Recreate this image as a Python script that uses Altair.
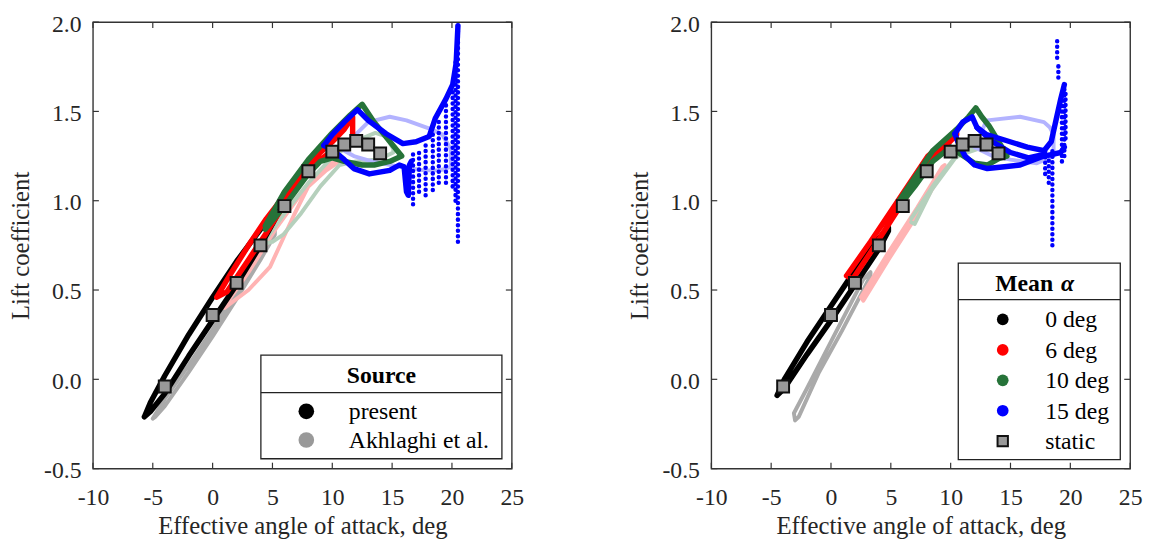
import altair as alt
import pandas as pd

FONT = "Liberation Serif"
PW, PH = 424, 452
SPACING = 103

x_ticks = [-10, -5, 0, 5, 10, 15, 20, 25]
y_ticks = [-0.5, 0.0, 0.5, 1.0, 1.5, 2.0]

# static lift curve (both panels)
static_aoa = [-4, 0, 2, 4, 6, 8, 10, 11, 12, 13, 14]
static_cl = [-0.04, 0.36, 0.54, 0.75, 0.97, 1.165, 1.275, 1.315, 1.335, 1.315, 1.265]

# ---------------- left panel: present ----------------
L_p0_x = [-5.7, -5.2, -4.0, -2.0, 0.0, 2.0, 4.0, 5.0, 5.7, 5.7, 5.0, 4.0, 2.0, 0.0, -2.0, -4.0, -5.2, -5.7]
L_p0_y = [-0.21, -0.13, 0.02, 0.25, 0.46, 0.66, 0.84, 0.92, 0.97, 0.96, 0.87, 0.75, 0.53, 0.33, 0.13, -0.08, -0.18, -0.21]

L_p6_x = [0.35, 1.5, 3.0, 4.5, 6.0, 7.5, 9.0, 10.0, 11.0, 11.7, 11.7, 11.0, 10.0, 9.0, 8.0, 6.0, 4.5, 3.0, 1.2, 0.35]
L_p6_y = [0.46, 0.59, 0.75, 0.90, 1.03, 1.16, 1.27, 1.33, 1.40, 1.47, 1.32, 1.30, 1.28, 1.23, 1.16, 0.98, 0.82, 0.67, 0.49, 0.46]

L_p10_x = [4.4, 6.0, 8.0, 10.0, 11.5, 12.5, 13.5, 14.7, 15.8, 14.8, 13.5, 12.5, 11.0, 10.0, 9.0, 8.0, 6.0, 4.4]
L_p10_y = [0.86, 1.05, 1.23, 1.38, 1.48, 1.54, 1.44, 1.34, 1.25, 1.22, 1.20, 1.20, 1.22, 1.24, 1.22, 1.15, 0.97, 0.84]

L_p15_up_x = [9.3, 10.0, 11.0, 12.1, 13.0, 14.5, 15.9, 17.0, 18.1, 18.6, 19.5, 20.06, 20.35, 20.5]
L_p15_up_y = [1.31, 1.37, 1.44, 1.51, 1.45, 1.375, 1.32, 1.33, 1.36, 1.46, 1.57, 1.65, 1.77, 1.98]
L_p15_dn_x = [16.6, 16.45, 16.35, 16.2, 16.0, 15.6, 14.8, 13.1, 11.8, 11.0, 10.1, 9.3]
L_p15_dn_y = [1.22, 1.20, 1.03, 1.05, 1.19, 1.20, 1.17, 1.15, 1.18, 1.23, 1.28, 1.31]

# post-stall scatter columns (angle, lowest CL, highest CL)
L_st_x = [20.5, 20.3, 20.06, 19.5, 18.9, 18.4, 17.8, 17.25, 16.75]
L_st_lo = [0.77, 1.00, 1.08, 1.10, 1.10, 1.06, 1.03, 1.05, 0.98]
L_st_hi = [1.98, 1.80, 1.61, 1.55, 1.45, 1.38, 1.32, 1.28, 1.28]

# ---------------- left panel: Akhlaghi et al. ----------------
L_a0_x = [-5.0, -4.0, -2.0, 0.0, 2.0, 4.0, 5.2, 5.2, 4.0, 2.0, 0.0, -2.0, -4.0, -4.8, -5.0]
L_a0_y = [-0.22, -0.11, 0.08, 0.28, 0.49, 0.70, 0.83, 0.81, 0.67, 0.45, 0.24, 0.04, -0.15, -0.21, -0.22]

L_a6_x = [1.0, 3.0, 5.35, 7.4, 9.5, 10.6, 10.6, 9.5, 8.0, 6.8, 5.9, 4.8, 3.0, 2.0, 1.0]
L_a6_y = [0.41, 0.60, 0.85, 1.04, 1.19, 1.25, 1.22, 1.17, 1.08, 0.92, 0.79, 0.63, 0.50, 0.45, 0.40]

L_a10_x = [4.3, 5.9, 8.0, 9.8, 11.8, 13.6, 14.5, 15.1, 15.1, 14.5, 13.6, 12.0, 10.6, 9.0, 7.4, 5.9, 5.0, 4.3]
L_a10_y = [0.77, 0.92, 1.10, 1.23, 1.33, 1.38, 1.36, 1.29, 1.27, 1.25, 1.23, 1.22, 1.20, 1.08, 0.93, 0.81, 0.77, 0.76]

L_a15_x = [11.0, 11.8, 13.0, 14.8, 16.2, 18.3, 19.2, 19.9, 19.9, 19.0, 17.7, 15.6, 13.3, 11.8, 11.0]
L_a15_y = [1.28, 1.36, 1.44, 1.47, 1.45, 1.40, 1.37, 1.29, 1.19, 1.17, 1.17, 1.19, 1.22, 1.25, 1.28]

# ---------------- right panel: present ----------------
R_p0_x = [-4.5, -3.9, -2.0, 0.0, 2.0, 4.0, 4.8, 4.8, 4.0, 2.0, 0.0, -2.0, -3.9, -4.5]
R_p0_y = [-0.09, 0.0, 0.21, 0.41, 0.61, 0.79, 0.85, 0.83, 0.73, 0.53, 0.33, 0.14, -0.05, -0.09]

R_p6_x = [1.3, 3.3, 5.4, 8.1, 9.5, 10.5, 10.5, 9.5, 8.1, 5.7, 3.3, 1.8, 1.3]
R_p6_y = [0.58, 0.77, 0.98, 1.25, 1.33, 1.38, 1.37, 1.30, 1.21, 0.96, 0.71, 0.56, 0.58]

R_p10_x = [5.7, 7.0, 8.5, 10.5, 11.5, 12.1, 12.6, 13.2, 14.2, 14.7, 14.05, 13.06, 12.0, 10.84, 10.0, 8.5, 7.0, 5.7]
R_p10_y = [1.0, 1.13, 1.28, 1.40, 1.47, 1.52, 1.47, 1.42, 1.31, 1.25, 1.237, 1.20, 1.21, 1.26, 1.30, 1.22, 1.08, 0.97]

R_p15_up_x = [10.35, 11.0, 11.8, 12.2, 13.0, 14.5, 16.4, 17.8, 18.4, 18.8, 19.2, 19.5]
R_p15_up_y = [1.375, 1.44, 1.47, 1.41, 1.37, 1.34, 1.30, 1.28, 1.33, 1.45, 1.57, 1.65]
R_p15_mid_x = [12.2, 13.5, 15.0, 16.5, 17.8]
R_p15_mid_y = [1.41, 1.33, 1.27, 1.24, 1.26]
R_p15_dn_x = [19.5, 19.2, 18.5, 17.8, 15.8, 14.5, 13.06, 12.0, 11.2, 10.6, 10.35]
R_p15_dn_y = [1.30, 1.27, 1.26, 1.25, 1.20, 1.19, 1.18, 1.20, 1.25, 1.33, 1.375]

R_st_x = [18.5, 18.2, 17.9, 18.9, 19.0, 19.3, 19.5, 19.6]
R_st_lo = [0.75, 1.10, 1.15, 1.80, 1.69, 1.22, 1.25, 1.35]
R_st_hi = [1.30, 1.28, 1.28, 1.90, 1.76, 1.62, 1.65, 1.62]

# ---------------- right panel: Akhlaghi et al. ----------------
R_a0_x = [-3.0, -3.1, -2.0, 0.3, 2.7, 3.3, 3.3, 2.7, 0.9, -1.0, -2.7, -3.0]
R_a0_y = [-0.23, -0.19, -0.05, 0.25, 0.56, 0.60, 0.58, 0.50, 0.27, 0.04, -0.21, -0.23]

R_a6_x = [2.5, 4.8, 7.2, 9.3, 9.5, 9.44, 7.2, 4.8, 2.7, 2.5]
R_a6_y = [0.46, 0.71, 0.96, 1.19, 1.20, 1.18, 0.92, 0.67, 0.44, 0.46]

R_a10_x = [6.7, 8.7, 10.2, 12.0, 12.3, 12.3, 10.5, 8.4, 7.0, 6.7]
R_a10_y = [0.90, 1.10, 1.23, 1.31, 1.31, 1.29, 1.25, 1.06, 0.87, 0.88]

R_a15_x = [12.0, 12.8, 13.06, 15.8, 17.8, 18.3, 18.6, 18.6, 17.2, 15.0, 13.5, 12.0]
R_a15_y = [1.30, 1.42, 1.45, 1.47, 1.44, 1.41, 1.37, 1.25, 1.21, 1.23, 1.25, 1.30]

# colours
color_keys = ["p0", "p6", "p10", "p15", "a0", "a6", "a10", "a15"]
color_vals = ["#000000", "#ff0000", "#267339", "#0000ff",
              "#aaaaaa", "#ffb3b3", "#b5d0bc", "#b3b3ff"]
COLOR = dict(zip(color_keys, color_vals))

left_legend_labels = ["present", "Akhlaghi et al."]
left_legend_colors = ["#000000", "#999999"]
right_legend_labels = ["0 deg", "6 deg", "10 deg", "15 deg", "static"]
right_legend_colors = ["#000000", "#ff0000", "#267339", "#0000ff", "#999999"]

XLAB = "datum.value < 0 ? '-' + format(-datum.value, 'd') : format(datum.value, 'd')"
YLAB = "datum.value < 0 ? '-' + format(-datum.value, '.1f') : format(datum.value, '.1f')"


def X(field):
    return alt.X(f"{field}:Q", scale=alt.Scale(domain=[-10, 25], nice=False, zero=False),
                 axis=alt.Axis(values=x_ticks, labelExpr=XLAB,
                               title="Effective angle of attack, deg"))


def Y(field):
    return alt.Y(f"{field}:Q", scale=alt.Scale(domain=[-0.5, 2.0], nice=False, zero=False),
                 axis=alt.Axis(values=y_ticks, labelExpr=YLAB, title="Lift coefficient"))


def line_layer(sid, xs, ys, key, width, opacity=1.0):
    df = pd.DataFrame({"x": xs, "y": ys, "i": list(range(len(xs)))})
    return alt.Chart(df).mark_line(
        color=COLOR[key], strokeWidth=width, strokeCap="round", strokeJoin="round",
        opacity=opacity
    ).encode(x=X("x"), y=Y("y"), order=alt.Order("i:Q"))


def streak_layer(xs, lo, hi):
    df = pd.DataFrame({"x": xs, "ylo": lo, "yhi": hi})
    return alt.Chart(df).mark_rule(
        color="#0000ff", strokeWidth=4.5, strokeDash=[0.1, 5.5], strokeCap="round"
    ).encode(x=X("x"), y=Y("ylo"), y2="yhi:Q")


def static_layer():
    df = pd.DataFrame({"x": static_aoa, "y": static_cl})
    return alt.Chart(df).mark_point(
        shape="square", filled=True, size=145, fill="#999999", stroke="#111111",
        strokeWidth=2, opacity=1
    ).encode(x=X("x"), y=Y("y"))


def tick_layers():
    tx = pd.DataFrame({"x": x_ticks})
    ty = pd.DataFrame({"y": y_ticks})
    st = dict(color="#333333", strokeWidth=1.2)
    return [
        alt.Chart(tx).mark_rule(**st).encode(x=X("x"), y=alt.value(PH), y2=alt.value(PH - 6)),
        alt.Chart(tx).mark_rule(**st).encode(x=X("x"), y=alt.value(0), y2=alt.value(6)),
        alt.Chart(ty).mark_rule(**st).encode(y=Y("y"), x=alt.value(0), x2=alt.value(6)),
        alt.Chart(ty).mark_rule(**st).encode(y=Y("y"), x=alt.value(PW - 6), x2=alt.value(PW)),
    ]


ONE = pd.DataFrame({"k": [0]})


def legend_layers(x0, x1, y0, y1, ydiv, title_parts, labels, colors, sym_x, sym_y0, step,
                  sym_size, text_x, square_last=False):
    layers = [
        alt.Chart(ONE).mark_rect(fill="white", stroke="#222222", strokeWidth=1.3).encode(
            x=alt.value(x0), x2=alt.value(x1), y=alt.value(y0), y2=alt.value(y1)),
        alt.Chart(ONE).mark_rule(color="#222222", strokeWidth=1.3).encode(
            x=alt.value(x0), x2=alt.value(x1), y=alt.value(ydiv)),
    ]
    for (txt, tx, align, style) in title_parts:
        layers.append(alt.Chart(ONE).mark_text(
            text=txt, font=FONT, fontSize=24, fontWeight="bold", fontStyle=style,
            align=align, baseline="alphabetic", color="#000000"
        ).encode(x=alt.value(tx), y=alt.value(y0 + 28)))
    for k, (lab, col) in enumerate(zip(labels, colors)):
        yy = sym_y0 + k * step
        is_sq = square_last and k == len(labels) - 1
        if is_sq:
            layers.append(alt.Chart(ONE).mark_point(
                shape="square", filled=True, size=110, fill=col, stroke="#111111",
                strokeWidth=2, opacity=1).encode(x=alt.value(sym_x), y=alt.value(yy)))
        else:
            layers.append(alt.Chart(ONE).mark_point(
                shape="circle", filled=True, size=sym_size, fill=col, stroke=None,
                strokeWidth=0, opacity=1).encode(x=alt.value(sym_x), y=alt.value(yy)))
        layers.append(alt.Chart(ONE).mark_text(
            text=lab, font=FONT, fontSize=24, align="left", baseline="alphabetic",
            color="#000000").encode(x=alt.value(text_x), y=alt.value(yy + 8)))
    return layers


def panel(faint, present, streaks, legend):
    layers = []
    for sid, xs, ys, key in faint:
        layers.append(line_layer(sid, xs, ys, key, 4))
    for sid, xs, ys, key in present:
        layers.append(line_layer(sid, xs, ys, key, 5.5))
    layers.append(streak_layer(*streaks))
    layers.append(static_layer())
    layers += tick_layers()
    layers += legend
    return alt.layer(*layers).properties(width=PW, height=PH)


left = panel(
    faint=[("a0", L_a0_x, L_a0_y, "a0"), ("a6", L_a6_x, L_a6_y, "a6"),
           ("a10", L_a10_x, L_a10_y, "a10"), ("a15", L_a15_x, L_a15_y, "a15")],
    present=[("p0", L_p0_x, L_p0_y, "p0"), ("p6", L_p6_x, L_p6_y, "p6"),
             ("p10", L_p10_x, L_p10_y, "p10"),
             ("p15u", L_p15_up_x, L_p15_up_y, "p15"), ("p15d", L_p15_dn_x, L_p15_dn_y, "p15")],
    streaks=(L_st_x, L_st_lo, L_st_hi),
    legend=legend_layers(170, 414, 337, 442, 375, [("Source", 292, "center", "normal")],
                         left_legend_labels, left_legend_colors, 216, 394, 29, 250, 259),
)

right = panel(
    faint=[("a0", R_a0_x, R_a0_y, "a0"), ("a6", R_a6_x, R_a6_y, "a6"),
           ("a10", R_a10_x, R_a10_y, "a10"), ("a15", R_a15_x, R_a15_y, "a15")],
    present=[("p0", R_p0_x, R_p0_y, "p0"), ("p6", R_p6_x, R_p6_y, "p6"),
             ("p10", R_p10_x, R_p10_y, "p10"),
             ("p15u", R_p15_up_x, R_p15_up_y, "p15"), ("p15m", R_p15_mid_x, R_p15_mid_y, "p15"),
             ("p15d", R_p15_dn_x, R_p15_dn_y, "p15")],
    streaks=(R_st_x, R_st_lo, R_st_hi),
    legend=legend_layers(250, 414, 244, 443, 281,
                         [("Mean", 346, "right", "normal"), ("α", 354, "left", "italic")],
                         right_legend_labels, right_legend_colors, 295, 301, 30.8, 140, 338,
                         square_last=True),
)

chart = alt.hconcat(left, right, spacing=SPACING).properties(
    padding={"left": 0, "top": 0, "right": 0, "bottom": 0}
).configure_view(
    stroke="#333333", strokeWidth=1.4
).configure_axis(
    labelFont=FONT, labelFontSize=24, labelColor="#262626",
    titleFont=FONT, titleFontSize=25, titleFontWeight="normal", titleColor="#262626",
    ticks=False, domain=False, grid=False, labelOverlap=False, labelFlush=False
).configure_axisX(
    labelPadding=17, titlePadding=5
).configure_axisY(
    labelPadding=12, titlePadding=10, labelOffset=2
)

chart.save("out.html", embed_options={"renderer": "svg", "actions": False})
